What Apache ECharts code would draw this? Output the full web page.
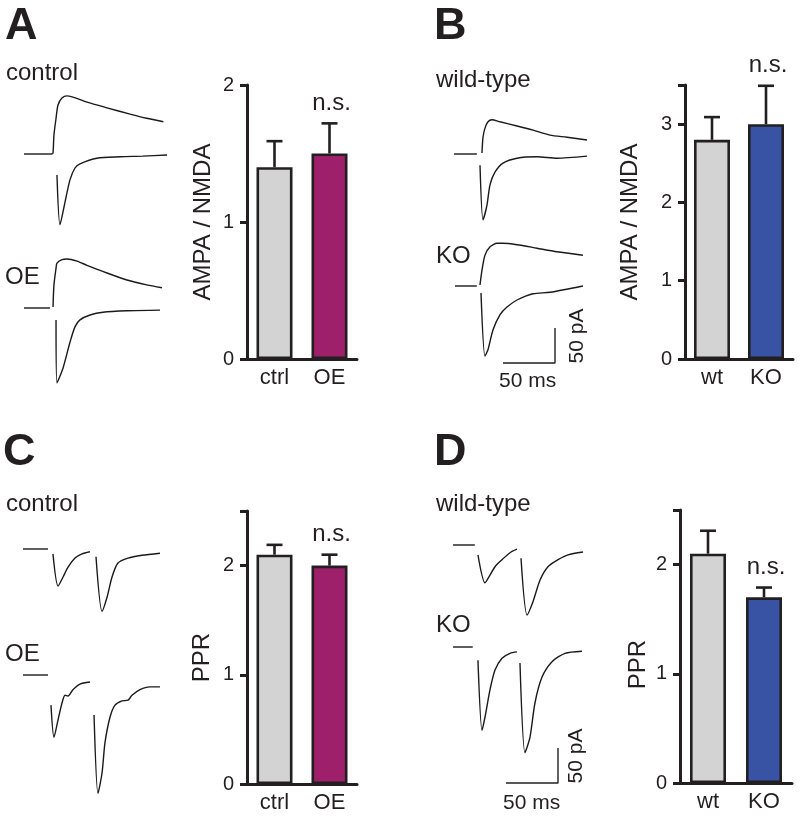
<!DOCTYPE html>
<html><head><meta charset="utf-8">
<script src="https://cdn.jsdelivr.net/npm/echarts@6/dist/echarts.min.js"></script>
<style>html,body{margin:0;padding:0;background:#fff}#c{width:800px;height:817px}</style>
</head><body><div id="c"></div>
<script>
// ---------------- DATA ----------------
// Bar charts
const catsA = ['ctrl', 'OE'];
const valsA = [1.4, 1.5];
const errsA = [0.19, 0.22];
const sigA = ['', 'n.s.'];
const ticksA = [0, 1, 2];

const catsB = ['wt', 'KO'];
const valsB = [2.8, 3.0];
const errsB = [0.29, 0.49];
const sigB = ['', 'n.s.'];
const ticksB = [0, 1, 2, 3, 3.5];
const labelsB = [0, 1, 2, 3];

const catsC = ['ctrl', 'OE'];
const valsC = [2.1, 2.0];
const errsC = [0.09, 0.1];
const sigC = ['', 'n.s.'];
const ticksC = [0, 1, 2, 2.5];
const labelsC = [0, 1, 2];

const catsD = ['wt', 'KO'];
const valsD = [2.1, 1.7];
const errsD = [0.21, 0.09];
const sigD = ['', 'n.s.'];
const ticksD = [0, 1, 2, 2.5];
const labelsD = [0, 1, 2];

// Traces: [time ms, current pA] relative to baseline
const aCtrlBase = [[0,0],[27,0]];
const aCtrlNmda = [[27,0],[27.9,1.4],[28.8,27],[30.8,51],[32.7,70],[36.5,80],[41.3,83],[60.6,74],[79.8,66],[102,57],[118,51],[134,46]];
const aCtrlAmpa = [[31.7,-30],[34.6,-101],[39.4,-69],[44.2,-37],[49,-20],[53.8,-14],[70.2,-6],[92.3,-4],[114,-3],[137.5,-1.4]];

const aOeBase = [[0,0],[25,0]];
const aOeNmda = [[27.9,1.4],[28.8,33],[30.8,57],[31.7,64],[36.5,69],[41.3,70],[51,67],[60.6,61],[79.8,50],[99,40],[118,33],[132.7,29]];
const aOeAmpa = [[30.8,-17],[31.7,-107],[37.5,-86],[44.2,-49],[49,-27],[53.8,-17],[63.5,-10],[76,-6],[99,-4],[130.8,-3]];

const bWtBase = [[0,0],[22,0]];
const bWtNmda = [[26.9,1.4],[27.9,24],[29.8,37],[32.7,46],[36.5,49],[44.2,46],[60.6,40],[76,34],[92.3,27],[108.7,24],[127.9,20]];
const bWtAmpa = [[25,-16],[27.9,-94],[31.7,-73],[34.6,-44],[39.4,-26],[47.1,-13],[60.6,-6],[79.8,-4],[99,-6],[127.9,-3]];

const bKoBase = [[0,0],[21,0]];
const bKoNmda = [[24,1.4],[26,23],[28.8,44],[33.7,56],[40.4,61],[46,61],[59.6,59],[78.8,54],[98,49],[123,44]];
const bKoAmpa = [[25,-10],[28.8,-100],[31.7,-91],[36.5,-63],[43.3,-41],[50,-30],[59.6,-20],[75,-11],[91.3,-9],[123,0]];

const cCtrlBase = [[0,0],[24,0]];
const cCtrl1 = [[28.8,-7],[33.7,-53],[38.5,-40],[43.3,-26],[50,-13],[56.7,-7],[64.4,-4]];
const cCtrl2 = [[70.2,-11],[76,-89],[80.8,-69],[85.6,-40],[91.3,-20],[101,-13],[114.4,-9],[131.7,-6]];

const cOeBase = [[0,0],[24,0]];
const cOe1 = [[26.9,-43],[29.8,-89],[33.7,-64],[37.5,-40],[40.4,-29],[43.3,-30],[48,-21],[54.8,-13],[64.4,-10]];
const cOe2 = [[68.3,-57],[72.1,-169],[76,-140],[78.8,-97],[83.7,-60],[88.5,-43],[95.2,-37],[101,-36],[104.8,-29],[112.5,-21],[122,-17],[131.7,-17]];

const dWtBase = [[0,0],[21,0]];
const dWt1 = [[24,-14],[30.8,-54],[35.6,-43],[40.4,-31],[47.1,-21],[54.8,-11],[61.5,-6]];
const dWt2 = [[65.4,-19],[71.2,-100],[76.9,-81],[83.7,-50],[91.3,-31],[101,-21],[110.6,-14],[125,-10]];

const dKoBase = [[0,0],[19,0]];
const dKo1 = [[24,-19],[27.9,-119],[30.8,-100],[35.6,-61],[40.4,-33],[47.1,-16],[54.8,-9],[61.5,-7]];
const dKo2 = [[64.4,-23],[69.2,-151],[74,-129],[78.8,-80],[85.6,-43],[95.2,-21],[107.7,-9],[124,-6]];

const scaleBar = [[0,0],[50,0],[50,50]];

// ---------------- LAYOUT ----------------
const FONT = "'Liberation Sans', Arial, Helvetica, sans-serif";
const INK = '#231f20';
const PX_PER_MS = 1.04, PX_PER_PA = 0.70;
const T_MAX = 140;

const traceGroups = [
  {ox: 24, oy: 154, lo: -180, hi: 100, lines: [aCtrlBase, aCtrlNmda, aCtrlAmpa]},
  {ox: 24, oy: 308, lo: -180, hi: 100, lines: [aOeBase, aOeNmda, aOeAmpa]},
  {ox: 454, oy: 154, lo: -180, hi: 100, lines: [bWtBase, bWtNmda, bWtAmpa]},
  {ox: 455, oy: 286, lo: -180, hi: 100, lines: [bKoBase, bKoNmda, bKoAmpa]},
  {ox: 23, oy: 549, lo: -180, hi: 100, lines: [cCtrlBase, cCtrl1, cCtrl2]},
  {ox: 23, oy: 675, lo: -180, hi: 100, lines: [cOeBase, cOe1, cOe2]},
  {ox: 453, oy: 545, lo: -180, hi: 100, lines: [dWtBase, dWt1, dWt2]},
  {ox: 453, oy: 647, lo: -180, hi: 100, lines: [dKoBase, dKo1, dKo2]},
  {ox: 503, oy: 363, lo: -10, hi: 60, lines: [scaleBar], bar: true},
  {ox: 506, oy: 783, lo: -10, hi: 60, lines: [scaleBar], bar: true}
];

const COL_GRAY = '#d3d3d3', COL_MAG = '#9e1f6a', COL_BLUE = '#3853a4';
const barPanels = [
  {left: 247, top: 85, width: 110, height: 274, max: 2, ticks: ticksA, labels: ticksA, name: 'AMPA / NMDA', nameGap: 32, namePad: 0,
   cats: catsA, vals: valsA, errs: errsA, sig: sigA, colors: [COL_GRAY, COL_MAG]},
  {left: 685, top: 85, width: 108, height: 274, max: 3.5, ticks: ticksB, labels: labelsB, name: 'AMPA / NMDA', nameGap: 43, namePad: 0,
   cats: catsB, vals: valsB, errs: errsB, sig: sigB, colors: [COL_GRAY, COL_BLUE]},
  {left: 247, top: 511, width: 110, height: 273, max: 2.5, ticks: ticksC, labels: labelsC, name: 'PPR', nameGap: 33, namePad: 20,
   cats: catsC, vals: valsC, errs: errsC, sig: sigC, colors: [COL_GRAY, COL_MAG]},
  {left: 680, top: 510, width: 112, height: 273, max: 2.5, ticks: ticksD, labels: labelsD, name: 'PPR', nameGap: 30, namePad: 36,
   cats: catsD, vals: valsD, errs: errsD, sig: sigD, colors: [COL_GRAY, COL_BLUE]}
];

const grids = [], xAxes = [], yAxes = [], series = [];

barPanels.forEach(function (p) {
  const gi = grids.length;
  grids.push({left: p.left, top: p.top, width: p.width, height: p.height, containLabel: false});
  xAxes.push({
    type: 'category', gridIndex: gi, data: p.cats,
    axisLine: {lineStyle: {color: INK, width: 3}},
    axisTick: {show: false},
    axisLabel: {color: INK, fontSize: 22, fontFamily: FONT, margin: 8},
    splitLine: {show: false}
  });
  yAxes.push({
    type: 'value', gridIndex: gi, min: 0, max: p.max,
    axisLine: {show: true, lineStyle: {color: INK, width: 3}},
    axisTick: {show: true, length: 7, lineStyle: {color: INK, width: 3}, customValues: p.ticks},
    axisLabel: {color: INK, fontSize: 20, fontFamily: FONT, margin: 13, customValues: p.labels},
    splitLine: {show: false},
    name: p.name, nameLocation: 'middle', nameRotate: 90, nameGap: p.nameGap,
    nameTextStyle: {color: INK, fontSize: 24, fontFamily: FONT, padding: [0, p.namePad, 0, 0]}
  });
  series.push({
    type: 'custom', xAxisIndex: gi, yAxisIndex: gi, z: 1, silent: true,
    data: p.vals.map(function (v, i) { return [i, v, p.errs[i]]; }),
    renderItem: function (params, api) {
      const i = params.dataIndex;
      const m = api.value(1), e = api.value(2);
      const b = api.coord([i, m]);
      const t = api.coord([i, m + e]);
      const children = [
        {type: 'line', shape: {x1: b[0], y1: b[1], x2: t[0], y2: t[1]}, style: {stroke: INK, lineWidth: 2.6}},
        {type: 'line', shape: {x1: t[0] - 8, y1: t[1], x2: t[0] + 8, y2: t[1]}, style: {stroke: INK, lineWidth: 2.6}}
      ];
      if (p.sig[i]) {
        children.push({type: 'text', x: t[0] + 2, y: t[1] - 20,
          style: {text: p.sig[i], fill: INK, font: '24px ' + FONT, align: 'center', verticalAlign: 'middle',
                  textAlign: 'center', textVerticalAlign: 'middle'}});
      }
      return {type: 'group', children: children};
    }
  });
  series.push({
    type: 'bar', xAxisIndex: gi, yAxisIndex: gi, z: 2, barWidth: 36, silent: true,
    data: p.vals.map(function (v, i) { return {value: v, itemStyle: {color: p.colors[i]}}; }),
    itemStyle: {borderColor: INK, borderWidth: 2.6}
  });
});

traceGroups.forEach(function (g) {
  const gi = grids.length;
  grids.push({left: g.ox, top: g.oy - g.hi * PX_PER_PA, width: T_MAX * PX_PER_MS,
              height: (g.hi - g.lo) * PX_PER_PA, containLabel: false});
  xAxes.push({type: 'value', gridIndex: gi, min: 0, max: T_MAX, show: false});
  yAxes.push({type: 'value', gridIndex: gi, min: g.lo, max: g.hi, show: false});
  g.lines.forEach(function (d) {
    series.push({
      type: 'line', xAxisIndex: gi, yAxisIndex: gi, data: d, showSymbol: false, symbol: 'none',
      smooth: g.bar ? false : 0.25, clip: false, silent: true, animation: false,
      lineStyle: {color: g.bar ? INK : '#1a1a1a', width: g.bar ? 1.4 : 1.4}
    });
  });
});

function txt(s, x, y, size, bold, rot) {
  return {type: 'text', x: x, y: y, rotation: rot || 0, silent: true,
    style: {text: s, fill: INK, font: (bold ? 'bold ' : '') + size + 'px ' + FONT,
            align: rot ? 'center' : 'left', verticalAlign: 'middle',
            textAlign: rot ? 'center' : 'left', textVerticalAlign: 'middle'}};
}

const graphics = [
  txt('A', 5, 27, 45, true), txt('B', 434, 27, 45, true),
  txt('C', 3, 453, 45, true), txt('D', 434, 453, 45, true),
  txt('control', 6, 73, 24), txt('OE', 5, 277, 24),
  txt('wild-type', 436, 80, 24), txt('KO', 436, 256, 24),
  txt('control', 6, 504, 24), txt('OE', 5, 654, 24),
  txt('wild-type', 436, 504, 24), txt('KO', 436, 625, 24),
  txt('50 ms', 499, 381, 21), txt('50 pA', 577, 336, 21, false, Math.PI / 2),
  txt('50 ms', 503, 803, 21), txt('50 pA', 576, 756, 21, false, Math.PI / 2)
];

const chart = echarts.init(document.getElementById('c'), null, {renderer: 'canvas'});
chart.setOption({
  backgroundColor: '#ffffff',
  animation: false,
  grid: grids, xAxis: xAxes, yAxis: yAxes, series: series,
  graphic: {elements: graphics}
});
</script></body></html>
